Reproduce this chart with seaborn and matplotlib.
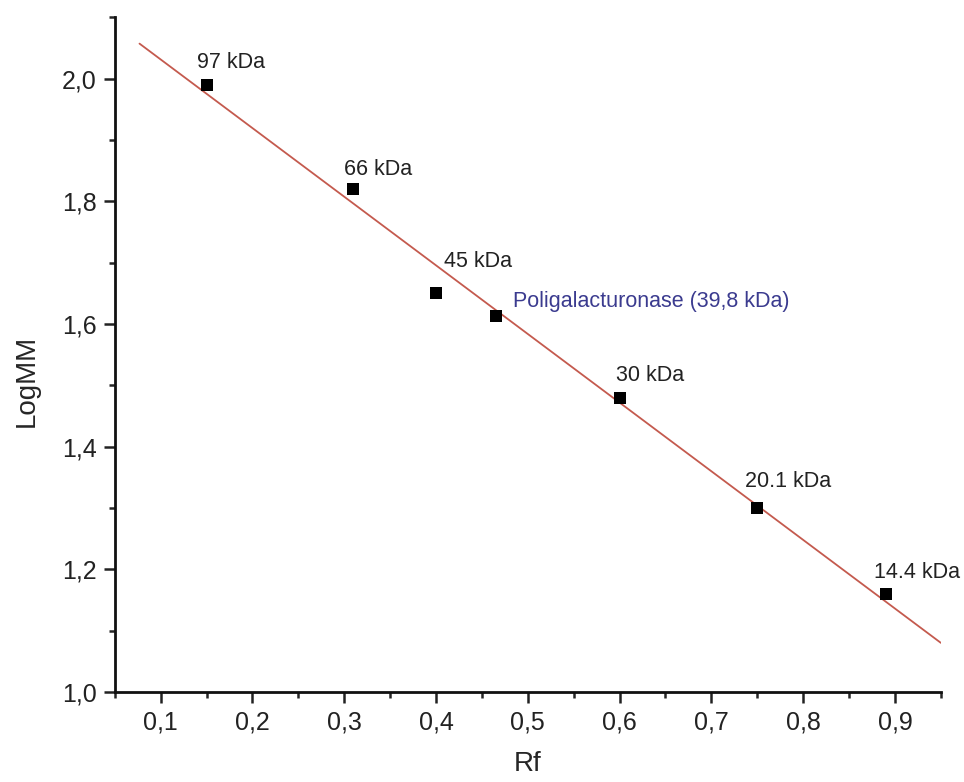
import numpy as np
import pandas as pd
import matplotlib
matplotlib.use("Agg")
import matplotlib.pyplot as plt
import seaborn as sns
from matplotlib.ticker import FuncFormatter, MultipleLocator

# data
rf = [0.15, 0.31, 0.40, 0.465, 0.60, 0.75, 0.89]
log_mm = [1.99, 1.82, 1.65, 1.613, 1.48, 1.30, 1.16]
labels = ["97 kDa", "66 kDa", "45 kDa", "Poligalacturonase (39,8 kDa)",
          "30 kDa", "20.1 kDa", "14.4 kDa"]

# fitted line range (Origin draws it only across this span)
fit_start, fit_end = 0.077, 0.95

df = pd.DataFrame({"Rf": rf, "LogMM": log_mm, "label": labels})

sns.set_style("ticks")
plt.rcParams["font.family"] = ["Liberation Sans", "DejaVu Sans"]

fig = plt.figure(figsize=(9.64, 7.82), dpi=100)
ax = fig.add_axes([0.119, 0.115, 0.857, 0.863])

# linear fit
slope, intercept = np.polyfit(df["Rf"], df["LogMM"], 1)
xfit = np.linspace(fit_start, fit_end, 50)
sns.lineplot(x=xfit, y=intercept + slope * xfit, ax=ax, color="#c45a4e", lw=1.3)

sns.scatterplot(data=df, x="Rf", y="LogMM", ax=ax, marker="s", s=75,
                color="black", edgecolor="black", linewidth=0, zorder=3)

# label offsets in points (dx, dy) from each marker to text baseline start
offsets = [(-6.5, 12), (-6.5, 10), (5.8, 18.7), (12.2, 6.5),
           (-2.9, 12.2), (-8.6, 15), (-8.6, 11.5)]
for (_, row), (dx, dy) in zip(df.iterrows(), offsets):
    col = "#3b3b8f" if row["label"].startswith("Poli") else "#222222"
    ax.annotate(row["label"], (row["Rf"], row["LogMM"]), xytext=(dx, dy),
                textcoords="offset points", fontsize=15.5, color=col,
                ha="left", va="baseline")

ax.set_xlim(0.05, 0.95)
ax.set_ylim(1.0, 2.1)
ax.xaxis.set_major_locator(MultipleLocator(0.1))
ax.xaxis.set_minor_locator(MultipleLocator(0.05))
ax.yaxis.set_major_locator(MultipleLocator(0.2))
ax.yaxis.set_minor_locator(MultipleLocator(0.1))
comma = FuncFormatter(lambda v, p: f"{v:.1f}".replace(".", ","))
ax.xaxis.set_major_formatter(comma)
ax.yaxis.set_major_formatter(comma)
ax.tick_params(which="major", length=8, width=1.8, labelsize=18, colors="#222222")
ax.tick_params(which="minor", length=4.5, width=1.8)
ax.tick_params(axis="x", which="major", pad=5)
ax.tick_params(axis="y", which="major", pad=5)
ax.set_xticks([v for v in np.arange(0.1, 0.95, 0.1)])

sns.despine(ax=ax)
for s in ["left", "bottom"]:
    ax.spines[s].set_linewidth(2)
    ax.spines[s].set_color("#111111")

ax.set_xlabel("Rf", fontsize=20)
ax.set_ylabel("LogMM", fontsize=20)
ax.xaxis.set_label_coords(0.5, -0.088)
ax.yaxis.set_label_coords(-0.091, 0.461)

fig.savefig("out.png", dpi=100)
